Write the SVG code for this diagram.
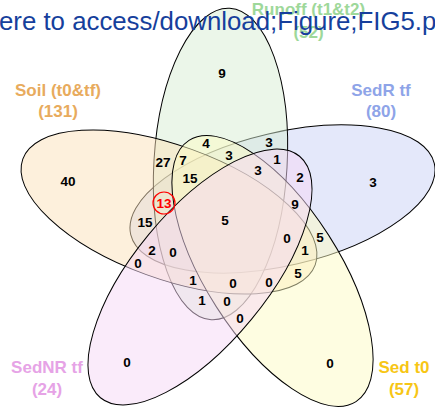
<svg xmlns="http://www.w3.org/2000/svg" width="435" height="407" viewBox="0 0 435 407">
<style>
.set{stroke:#000;stroke-width:1;fill-opacity:0.5}
.cat{font-family:"Liberation Sans",Arial,sans-serif;font-weight:bold;font-size:17px;text-anchor:middle}
.n{font-family:"Liberation Sans",Arial,sans-serif;font-weight:bold;font-size:13.5px;text-anchor:middle;fill:#000}
</style>
<rect width="435" height="407" fill="#fff"/>
<g id="set-sedr">
<ellipse class="set" cx="282.5" cy="199" rx="155.9" ry="66.6" fill="#c9d1f5" transform="rotate(-13.2 282.5 199)"/>
</g>
<g id="set-runoff">
<ellipse class="set" cx="220.5" cy="164" rx="156" ry="66.6" fill="#d7edd3" transform="rotate(-86.6 220.5 164)"/>
</g>
<g id="set-soil">
<ellipse class="set" cx="169" cy="212" rx="155.5" ry="66.6" fill="#fbe1b9" transform="rotate(19.9 169 212)"/>
</g>
<g id="set-sedt0">
<ellipse class="set" cx="272.5" cy="271" rx="155" ry="66.6" fill="#fdfbc3" transform="rotate(57.4 272.5 271)"/>
</g>
<g id="set-sednr">
<ellipse class="set" cx="200" cy="277" rx="156.5" ry="66.6" fill="#f5d7f5" transform="rotate(-50.5 200 277)"/>
</g>
<g id="labels">
<text class="cat" fill="#9ed89a" x="308.5" y="15">Runoff (t1&amp;t2)</text>
<text class="cat" fill="#9ed89a" x="308.5" y="38">(52)</text>
<text class="cat" fill="#e8ab5d" x="58" y="96">Soil (t0&amp;tf)</text>
<text class="cat" fill="#e8ab5d" x="58" y="117">(131)</text>
<text class="cat" fill="#8ea4e8" x="381" y="96">SedR tf</text>
<text class="cat" fill="#8ea4e8" x="381" y="117">(80)</text>
<text class="cat" fill="#e6a3e6" x="47" y="373">SedNR tf</text>
<text class="cat" fill="#e6a3e6" x="47" y="395">(24)</text>
<text class="cat" fill="#f7c615" x="404" y="373">Sed t0</text>
<text class="cat" fill="#f7c615" x="404" y="395">(57)</text>
</g>
<g id="counts">
<text class="n" x="222" y="78">9</text>
<text class="n" x="68" y="186">40</text>
<text class="n" x="373" y="187">3</text>
<text class="n" x="127" y="367">0</text>
<text class="n" x="330" y="368">0</text>
<text class="n" x="163" y="167">27</text>
<text class="n" x="183" y="165">7</text>
<text class="n" x="206" y="148">4</text>
<text class="n" x="229" y="160">3</text>
<text class="n" x="269" y="147">3</text>
<text class="n" x="277" y="164">1</text>
<text class="n" x="258" y="175">3</text>
<text class="n" x="190" y="183">15</text>
<text class="n" x="145" y="227">15</text>
<text class="n" x="225" y="225">5</text>
<text class="n" x="300" y="182">2</text>
<text class="n" x="295" y="209">9</text>
<text class="n" x="287" y="243">0</text>
<text class="n" x="305" y="255">1</text>
<text class="n" x="320" y="242">5</text>
<text class="n" x="298" y="278">5</text>
<text class="n" x="152" y="255">2</text>
<text class="n" x="173" y="257">0</text>
<text class="n" x="138" y="268">0</text>
<text class="n" x="193" y="285">1</text>
<text class="n" x="202" y="305">1</text>
<text class="n" x="233" y="288">0</text>
<text class="n" x="269" y="287">0</text>
<text class="n" x="227" y="306">0</text>
<text class="n" x="240" y="323">0</text>
<circle cx="164" cy="203" r="11" fill="none" stroke="#f00" stroke-width="1.2"/>
<text class="n" x="164" y="208" style="fill:#f00">13</text>
</g>
<text x="-1" y="30" font-family="Liberation Sans, Arial, sans-serif" font-size="25.8" fill="#163f9c">ere to access/download;Figure;FIG5.p</text>
</svg>
